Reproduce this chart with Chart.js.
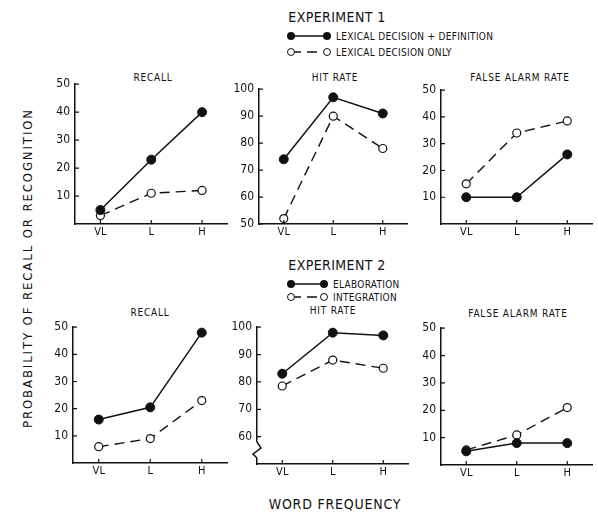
<!DOCTYPE html>
<html>
<head>
<meta charset="utf-8">
<script src="https://cdn.jsdelivr.net/npm/chart.js@4"></script>
<style>
  body { margin: 0; background: #fff; }
  #wrap { position: relative; width: 598px; height: 513px; overflow: hidden; background: #fff;
          font-family: 'DejaVu Sans Condensed', 'Liberation Sans Narrow', 'DejaVu Sans', sans-serif; color: #111; }
  canvas { position: absolute; }
  .lbl { position: absolute; white-space: nowrap; transform: translate(-50%, -50%); }
  .title { font-size: 10px; letter-spacing: 0.8px; }
  .exp { font-size: 14px; letter-spacing: 0.4px; }
  .leg { position: absolute; font-size: 10px; letter-spacing: 0.3px; white-space: nowrap; transform: translateY(-50%); }
  svg { position: absolute; }
</style>
</head>
<body>
<div id="wrap">
  <div class="lbl exp" style="left:337px; top:17px;">EXPERIMENT 1</div>
  <svg style="left:283px; top:28px;" width="52" height="32">
    <line x1="8" y1="8" x2="44" y2="8" stroke="#111" stroke-width="1.5"/>
    <circle cx="8" cy="8" r="4" fill="#111"/><circle cx="44" cy="8" r="4" fill="#111"/>
    <line x1="8" y1="24" x2="44" y2="24" stroke="#111" stroke-width="1.5" stroke-dasharray="10 6"/>
    <circle cx="8" cy="24" r="3.5" fill="#fff" stroke="#111"/><circle cx="44" cy="24" r="3.5" fill="#fff" stroke="#111"/>
  </svg>
  <div class="leg" style="left:336px; top:36px;">LEXICAL DECISION + DEFINITION</div>
  <div class="leg" style="left:336px; top:52px;">LEXICAL DECISION ONLY</div>

  <div class="lbl exp" style="left:337px; top:265px;">EXPERIMENT 2</div>
  <svg style="left:283px; top:276px;" width="52" height="30">
    <line x1="8" y1="8" x2="41" y2="8" stroke="#111" stroke-width="1.5"/>
    <circle cx="8" cy="8" r="4" fill="#111"/><circle cx="41" cy="8" r="4" fill="#111"/>
    <line x1="8" y1="21" x2="41" y2="21" stroke="#111" stroke-width="1.5" stroke-dasharray="10 6"/>
    <circle cx="8" cy="21" r="3.5" fill="#fff" stroke="#111"/><circle cx="41" cy="21" r="3.5" fill="#fff" stroke="#111"/>
  </svg>
  <div class="leg" style="left:333px; top:284px;">ELABORATION</div>
  <div class="leg" style="left:333px; top:297px;">INTEGRATION</div>

  <div class="lbl title" style="left:153px; top:77px;">RECALL</div>
  <div class="lbl title" style="left:335px; top:77px;">HIT RATE</div>
  <div class="lbl title" style="left:520px; top:77px;">FALSE ALARM RATE</div>
  <div class="lbl title" style="left:150px; top:312px;">RECALL</div>
  <div class="lbl title" style="left:333px; top:310px;">HIT RATE</div>
  <div class="lbl title" style="left:518px; top:313px;">FALSE ALARM RATE</div>

  <div class="lbl" style="left:27px; top:268px; font-size:13px; letter-spacing:1.9px; transform: translate(-50%, -50%) rotate(-90deg);">PROBABILITY OF RECALL OR RECOGNITION</div>
  <div class="lbl" style="left:335px; top:504px; font-size:14px; letter-spacing:0.8px;">WORD FREQUENCY</div>

  <canvas id="c1"></canvas><canvas id="c2"></canvas><canvas id="c3"></canvas>
  <canvas id="c4"></canvas><canvas id="c5"></canvas><canvas id="c6"></canvas>
</div>
<script>
// word frequency categories
const categories = ['VL', 'L', 'H'];

// Experiment 1
const exp1RecallDef = [5, 23, 40];
const exp1RecallOnly = [3, 11, 12];
const exp1HitDef = [74, 97, 91];
const exp1HitOnly = [52, 90, 78];
const exp1FalseDef = [10, 10, 26];
const exp1FalseOnly = [15, 34, 38.5];

// Experiment 2
const exp2RecallElab = [16, 20.5, 48];
const exp2RecallInteg = [6, 9, 23];
const exp2HitElab = [83, 98, 97];
const exp2HitInteg = [78.5, 88, 85];
const exp2FalseElab = [5, 8, 8];
const exp2FalseInteg = [5.5, 11, 21];

// tick labels
const lowTicks = [10, 20, 30, 40, 50];
const hitTicks1 = [50, 60, 70, 80, 90, 100];
const hitTicks2 = [60, 70, 80, 90, 100];

const FONT = "'DejaVu Sans Condensed', 'Liberation Sans Narrow', 'DejaVu Sans', sans-serif";
const Y_W = 32, X_H = 26, PAD_T = 10;

// short ticks pointing into the plot, plus the axis break on panel 5
const innerTicks = {
    id: 'innerTicks',
    afterDraw(chart) {
        const ctx = chart.ctx;
        const xs = chart.scales.x, ys = chart.scales.y;
        const a = chart.chartArea;
        ctx.save();
        ctx.strokeStyle = '#111';
        ctx.lineWidth = 1.2;
        ctx.beginPath();
        xs.ticks.forEach(t => {
            const px = xs.getPixelForValue(t.value);
            ctx.moveTo(px, a.bottom);
            ctx.lineTo(px, a.bottom - 4);
        });
        ys.ticks.forEach(t => {
            const py = ys.getPixelForValue(t.value);
            ctx.moveTo(a.left, py);
            ctx.lineTo(a.left + 4, py);
        });
        ctx.stroke();
        if (chart.options.plugins.innerTicks && chart.options.plugins.innerTicks.brk) {
            const y0 = a.bottom - 22, y1 = a.bottom - 6;
            ctx.fillStyle = '#fff';
            ctx.fillRect(a.left - 3, y0, 6, y1 - y0);
            ctx.beginPath();
            ctx.moveTo(a.left, y0);
            ctx.lineTo(a.left + 4, y0 + 6);
            ctx.lineTo(a.left - 4, y0 + 12);
            ctx.lineTo(a.left, y1);
            ctx.lineWidth = 1.5;
            ctx.stroke();
        }
        ctx.restore();
    }
};

function makePanel(id, box, yMin, yMax, yTicks, solid, dashed, brk) {
    const canvas = document.getElementById(id);
    const w = box.right - box.axisX + Y_W;
    const h = box.bottom - box.top + PAD_T + X_H;
    canvas.width = w;
    canvas.height = h;
    canvas.style.left = (box.axisX - Y_W) + 'px';
    canvas.style.top = (box.top - PAD_T) + 'px';

    new Chart(canvas, {
        type: 'line',
        data: {
            datasets: [
                {
                    data: solid.map((v, i) => ({ x: i, y: v })),
                    borderColor: '#111',
                    borderWidth: 1.5,
                    pointRadius: 4.5,
                    pointBackgroundColor: '#111',
                    pointBorderColor: '#111',
                    pointBorderWidth: 1
                },
                {
                    data: dashed.map((v, i) => ({ x: i, y: v })),
                    borderColor: '#111',
                    borderWidth: 1.4,
                    borderDash: [10, 6],
                    pointRadius: 4,
                    pointBackgroundColor: '#fff',
                    pointBorderColor: '#111',
                    pointBorderWidth: 1.2
                }
            ]
        },
        options: {
            responsive: false,
            animation: false,
            devicePixelRatio: 1,
            clip: false,
            layout: { padding: { top: PAD_T, right: 0, left: 0, bottom: 0 } },
            plugins: {
                legend: { display: false },
                tooltip: { enabled: false },
                innerTicks: { brk: brk }
            },
            scales: {
                x: {
                    type: 'linear',
                    min: -0.5,
                    max: 2.5,
                    afterBuildTicks: s => { s.ticks = categories.map((c, i) => ({ value: i })); },
                    afterFit: s => { s.height = X_H; },
                    ticks: {
                        callback: v => categories[v],
                        color: '#111',
                        padding: 2,
                        font: { family: FONT, size: 11 }
                    },
                    grid: { display: false, drawTicks: false, tickLength: 0 },
                    border: { display: true, color: '#111', width: 1.5 }
                },
                y: {
                    min: yMin,
                    max: yMax,
                    afterBuildTicks: s => { s.ticks = yTicks.map(v => ({ value: v })); },
                    afterFit: s => { s.width = Y_W; },
                    ticks: {
                        color: '#111',
                        padding: 5,
                        font: { family: FONT, size: 12 }
                    },
                    grid: { display: false, drawTicks: false, tickLength: 0 },
                    border: { display: true, color: '#111', width: 1.5 }
                }
            }
        },
        plugins: [innerTicks]
    });
}

makePanel('c1', { axisX: 75, top: 82, bottom: 224, right: 233 }, 0, 50, lowTicks, exp1RecallDef, exp1RecallOnly, false);
makePanel('c2', { axisX: 259, top: 87, bottom: 224, right: 413 }, 50, 100, hitTicks1, exp1HitDef, exp1HitOnly, false);
makePanel('c3', { axisX: 441, top: 88, bottom: 224, right: 598 }, 0, 50, lowTicks, exp1FalseDef, exp1FalseOnly, false);
makePanel('c4', { axisX: 73, top: 325, bottom: 463, right: 233 }, 0, 50, lowTicks, exp2RecallElab, exp2RecallInteg, false);
makePanel('c5', { axisX: 257, top: 325, bottom: 464, right: 414 }, 50, 100, hitTicks2, exp2HitElab, exp2HitInteg, true);
makePanel('c6', { axisX: 441, top: 326, bottom: 465, right: 598 }, 0, 50, lowTicks, exp2FalseElab, exp2FalseInteg, false);
</script>
</body>
</html>
